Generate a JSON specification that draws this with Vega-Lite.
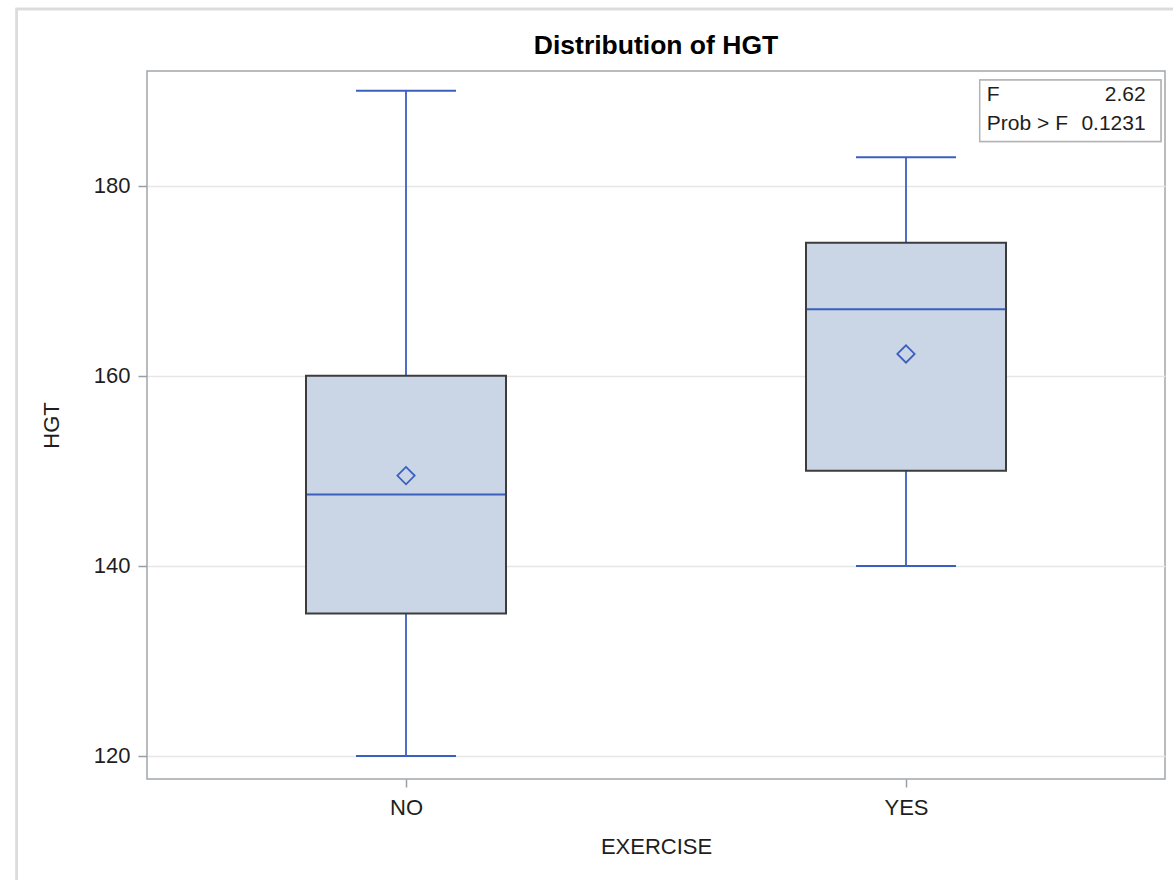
{
  "$schema": "https://vega.github.io/schema/vega-lite/v6.json",
  "width": 1018,
  "height": 708,
  "autosize": {"type": "none"},
  "padding": {"left": 147, "top": 71, "right": 8, "bottom": 101},
  "background": "white",
  "config": {
    "font": "Liberation Sans",
    "view": {"stroke": "#a2a6aa", "strokeWidth": 1.5},
    "axis": {
      "labelFont": "Liberation Sans",
      "titleFont": "Liberation Sans",
      "labelFontSize": 22,
      "titleFontSize": 22,
      "titleFontWeight": "normal",
      "labelColor": "#1e1e1e",
      "titleColor": "#1e1e1e",
      "tickColor": "#9a9ea2",
      "tickWidth": 1.5,
      "domain": false
    }
  },
  "title": {
    "text": "Distribution of HGT",
    "font": "Liberation Sans",
    "fontSize": 26.5,
    "fontWeight": "bold",
    "color": "#000000",
    "anchor": "middle",
    "frame": "group",
    "offset": -52
  },
  "datasets": {
    "box": [
      {"EXERCISE": "NO", "min": 120, "q1": 135, "median": 147.5, "q3": 160, "max": 190, "mean": 149.5},
      {"EXERCISE": "YES", "min": 140, "q1": 150, "median": 167, "q3": 174, "max": 183, "mean": 162.3}
    ],
    "stats": [
      {"row": 1, "label": "F", "value": "2.62"},
      {"row": 2, "label": "Prob > F", "value": "0.1231"}
    ]
  },
  "layer": [
    {
      "data": {"name": "box"},
      "encoding": {
        "x": {
          "field": "EXERCISE",
          "type": "nominal",
          "title": "EXERCISE",
          "scale": {"type": "point", "padding": 0.518},
          "axis": {"labelAngle": 0, "tickSize": 8, "labelPadding": 10, "titlePadding": 18, "grid": false}
        }
      },
      "layer": [
        {
          "mark": {"type": "rule", "color": "#3a5fbe", "strokeWidth": 1.8},
          "encoding": {
            "y": {
              "field": "min",
              "type": "quantitative",
              "title": "HGT",
              "scale": {"domain": [117.58, 192.07], "nice": false, "zero": false},
              "axis": {"values": [120, 140, 160, 180], "grid": true, "gridColor": "#e6e6e6", "gridWidth": 1.5, "tickSize": 9, "labelPadding": 8, "titlePadding": 30}
            },
            "y2": {"field": "max"}
          }
        },
        {
          "mark": {"type": "bar", "size": 200, "fill": "#cad5e5", "stroke": "#3c3c3c", "strokeWidth": 2},
          "encoding": {
            "y": {"field": "q1", "type": "quantitative", "title": "HGT"},
            "y2": {"field": "q3"}
          }
        },
        {
          "mark": {"type": "tick", "size": 198, "thickness": 2, "color": "#3a5fbe", "opacity": 1},
          "encoding": {"y": {"field": "median", "type": "quantitative", "title": "HGT"}}
        },
        {
          "mark": {"type": "tick", "size": 100, "thickness": 2, "color": "#3a5fbe", "opacity": 1},
          "encoding": {"y": {"field": "min", "type": "quantitative", "title": "HGT"}}
        },
        {
          "mark": {"type": "tick", "size": 100, "thickness": 2, "color": "#3a5fbe", "opacity": 1},
          "encoding": {"y": {"field": "max", "type": "quantitative", "title": "HGT"}}
        },
        {
          "mark": {"type": "point", "shape": "diamond", "filled": false, "size": 300, "strokeWidth": 1.8, "color": "#3a5fbe", "opacity": 1},
          "encoding": {"y": {"field": "mean", "type": "quantitative", "title": "HGT"}}
        }
      ]
    },
    {
      "data": {"name": "stats"},
      "layer": [
        {
          "mark": {"type": "rect", "fill": null, "fillOpacity": 0, "stroke": "#dcdcdc", "strokeWidth": 2.5, "clip": false},
          "encoding": {
            "x": {"datum": -0.128, "type": "quantitative", "scale": {"domain": [0, 1], "nice": false, "zero": false}, "axis": null},
            "x2": {"datum": 1.03},
            "y": {"datum": -2.172, "type": "quantitative", "scale": {"domain": [-0.0345, 24.38], "nice": false, "zero": false, "reverse": true}, "axis": null},
            "y2": {"datum": 28.6}
          }
        },
        {
          "mark": {"type": "rect", "fill": "white", "stroke": "#b4b4b4", "strokeWidth": 1.5},
          "encoding": {
            "x": {"datum": 0.818, "type": "quantitative", "scale": {"domain": [0, 1], "nice": false, "zero": false}, "axis": null},
            "x2": {"datum": 0.996},
            "y": {"datum": 0.276, "type": "quantitative", "scale": {"domain": [-0.0345, 24.38], "nice": false, "zero": false, "reverse": true}, "axis": null},
            "y2": {"datum": 2.397}
          }
        },
        {
          "mark": {"type": "text", "align": "left", "baseline": "alphabetic", "fontSize": 21, "font": "Liberation Sans", "color": "#1e1e1e"},
          "encoding": {
            "x": {"datum": 0.825, "type": "quantitative", "scale": {"domain": [0, 1], "nice": false, "zero": false}, "axis": null},
            "y": {"field": "row", "type": "quantitative", "scale": {"domain": [-0.0345, 24.38], "nice": false, "zero": false, "reverse": true}, "axis": null},
            "text": {"field": "label"}
          }
        },
        {
          "mark": {"type": "text", "align": "right", "baseline": "alphabetic", "fontSize": 21, "font": "Liberation Sans", "color": "#1e1e1e"},
          "encoding": {
            "x": {"datum": 0.981, "type": "quantitative", "scale": {"domain": [0, 1], "nice": false, "zero": false}, "axis": null},
            "y": {"field": "row", "type": "quantitative", "scale": {"domain": [-0.0345, 24.38], "nice": false, "zero": false, "reverse": true}, "axis": null},
            "text": {"field": "value"}
          }
        }
      ]
    }
  ],
  "resolve": {"scale": {"x": "independent", "y": "independent"}, "axis": {"x": "independent", "y": "independent"}}
}
